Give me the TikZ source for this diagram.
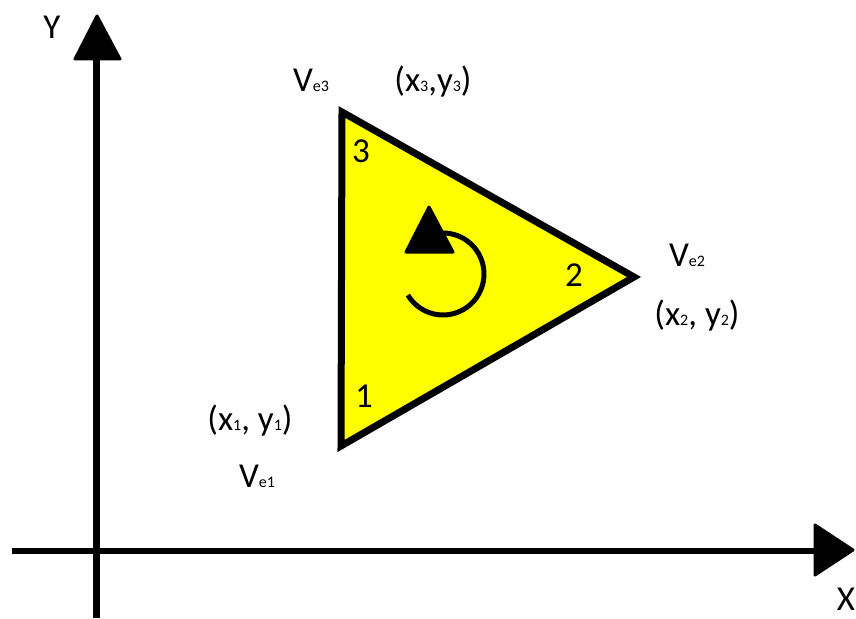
\documentclass[tikz,border=0pt]{standalone}
\usepackage{fontspec}
\setmainfont{Carlito}
\newcommand\lsub[1]{{\fontsize{16}{16}\selectfont #1}}
\begin{document}
\begin{tikzpicture}[x=1pt,y=-1pt,
  lbl/.style={anchor=base,inner sep=0pt,font=\fontsize{35}{40}\selectfont},
  head/.style={fill=black,draw=black,line width=3pt,line join=round},
  axis/.style={line width=6.5pt,draw=black}]
\useasboundingbox (0,0) rectangle (856,618);
% axes
\coordinate (xs) at (12,551);
\coordinate (xe) at (815,551);
\coordinate (ys) at (96,618);
\coordinate (ye) at (96,58);
\draw[axis] (xs) -- (xe);
\draw[axis,line width=7pt] (ys) -- (ye);
\coordinate (yt) at (97,16);
\coordinate (yl) at (75,59);
\coordinate (yr) at (120,59);
\draw[head] (yt) -- (yl) -- (yr) -- cycle;
\coordinate (xt) at (853,550);
\coordinate (xu) at (815,525);
\coordinate (xd) at (815,575);
\draw[head] (xt) -- (xu) -- (xd) -- cycle;
% triangle
\coordinate (v1) at (341,446);
\coordinate (v2) at (634,277);
\coordinate (v3) at (342,112);
\draw[line width=7pt,fill={rgb,255:red,255;green,255;blue,0}] (v1) -- (v2) -- (v3) -- cycle;
% rotation arrow
\coordinate (c) at (443,274);
\draw[line width=5pt] (c) ++(149:41) arc (149:-112:41);
\coordinate (rt) at (429,207);
\coordinate (rl) at (406,252);
\coordinate (rr) at (453,252);
\draw[head] (rt) -- (rl) -- (rr) -- cycle;
% labels
\node[lbl] (Y) at (52,38) {Y};
\node[lbl] (X) at (846,610) {X};
\node[lbl] (n1) at (364,407) {1};
\node[lbl] (n2) at (574,286) {2};
\node[lbl] (n3) at (361,162) {3};
\node[lbl] (ve3) at (311,92) {V\lsub{e3}};
\node[lbl] (p3) at (433,92) {(x\lsub{3},y\lsub{3})};
\node[lbl] (ve2) at (687,266) {V\lsub{e2}};
\node[lbl] (p2) at (697,325) {(x\lsub{2}, y\lsub{2})};
\node[lbl] (p1) at (250,430) {(x\lsub{1}, y\lsub{1})};
\node[lbl] (ve1) at (257,487) {V\lsub{e1}};
\end{tikzpicture}
\end{document}
